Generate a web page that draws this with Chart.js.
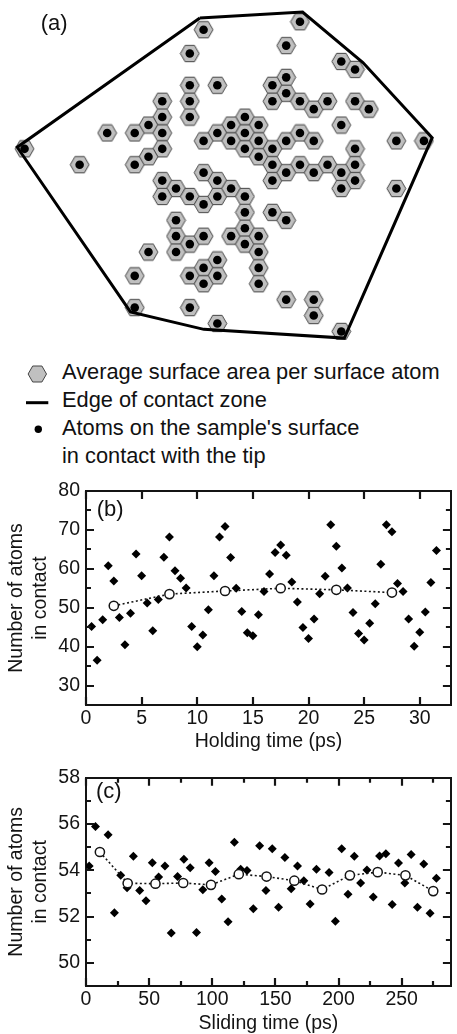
<!DOCTYPE html>
<html>
<head>
<meta charset="utf-8">
<script src="https://cdn.jsdelivr.net/npm/chart.js@4.4.1/dist/chart.umd.min.js"></script>
<style>
  html, body { margin: 0; padding: 0; background: #fff; }
  body { width: 457px; height: 1034px; position: relative; overflow: hidden;
         font-family: "Liberation Sans", Arial, sans-serif; color: #111; }
  canvas { position: absolute; left: 0; }
  .tag { position: absolute; font-size: 22px; line-height: 22px; white-space: nowrap; }
  #legend { position: absolute; left: 62px; top: 358.4px; font-size: 21.8px; line-height: 27.8px; white-space: nowrap; }
  #legendKey { position: absolute; left: 0; top: 345px; }
</style>
</head>
<body>
<canvas id="chartA" width="457" height="345" style="top:0"></canvas>
<canvas id="chartB" width="457" height="290" style="top:470px"></canvas>
<canvas id="chartC" width="457" height="274" style="top:760px"></canvas>

<svg id="legendKey" width="80" height="125">
  <polygon points="46.5,29 41.9,37 32.7,37 28.1,29 32.7,21 41.9,21" fill="#c0c0c0" stroke="#444" stroke-width="1"/>
  <line x1="26" y1="57.7" x2="48.3" y2="57.7" stroke="#000" stroke-width="3"/>
  <circle cx="38.3" cy="84.3" r="3.7" fill="#000"/>
</svg>
<div id="legend">Average surface area per surface atom<br>Edge of contact zone<br>Atoms on the sample's surface<br>in contact with the tip</div>

<div class="tag" style="left:40.7px; top:11.8px">(a)</div>
<div class="tag" style="left:96.7px; top:498.4px">(b)</div>
<div class="tag" style="left:96px; top:780px">(c)</div>

<script>
// (a) surface atoms on the hex lattice: column, row (odd columns sit half a row down)
const atomCol = [13, 20, 12, 19, 23, 24, 12, 14, 19, 18, 19, 10, 12, 18, 20, 21, 22, 24, 25, 10,
                 12, 9, 16, 15, 17, 23, 6, 8, 10, 14, 16, 13, 15, 17, 19, 20, 21, 27, 29, 0,
                 10, 16, 18, 24, 4, 9, 8, 17, 18, 20, 22, 24, 13, 14, 10, 11, 10, 12, 13, 14,
                 15, 16, 16, 18, 19, 11, 11, 12, 13, 15, 16, 16, 17, 17, 11, 9, 14, 13, 12, 14,
                 13, 17, 17, 8, 8, 12, 14, 19, 21, 21, 23, 27, 23, 24, 23, 18, 19, 21];
const atomRow = [0.5, 0, 2, 1.5, 2.5, 3, 4, 4, 3.5, 4, 4.5, 5, 5, 5, 5, 5.5, 5, 5, 5.5, 6,
                 6, 6.5, 6, 6.5, 6.5, 6.5, 7, 7, 7, 7, 7, 7.5, 7.5, 7.5, 7.5, 7, 7.5, 7.5, 7.5, 8,
                 8, 8, 8, 8, 9, 8.5, 9, 8.5, 9, 9, 9, 9, 9.5, 10, 10, 10.5, 11, 11, 11.5, 11,
                 10.5, 11, 12, 12, 12.5, 12.5, 13.5, 14, 13.5, 13.5, 13, 14, 13.5, 14.5, 14.5, 14.5, 15, 15.5, 16, 16,
                 16.5, 15.5, 16.5, 16, 18, 18, 19, 17.5, 17.5, 18.5, 19.5, 10.5, 9.5, 10, 10.5, 10, 9.5, 9.5];
// (a) edge of the contact zone, same lattice units
const edgeCol = [12.73, 20.19, 24.57, 29.6, 23.22, 13.02, 7.69, -0.53, 12.73];
const edgeRow = [-0.24, -0.61, 2.57, 7.3, 19.92, 19.37, 18.27, 7.9, -0.24];

// (b) holding
const holdTime = [0.5, 1, 1.5, 2, 2.5, 3, 3.5, 4, 4.5, 5, 5.5, 6, 6.5, 7, 7.5, 8, 8.5, 9, 9.5, 10,
                  10.5, 11, 11.5, 12, 12.5, 13, 13.5, 14, 14.5, 15, 15.5, 16, 16.5, 17, 17.5, 18, 18.5, 19, 19.5, 20,
                  20.5, 21, 21.5, 22, 22.5, 23, 23.5, 24, 24.5, 25, 25.5, 26, 26.5, 27, 27.5, 28, 28.5, 29, 29.5, 30,
                  30.5, 31, 31.5];
const holdAtoms = [45.2, 36.5, 46.9, 60.8, 56.9, 47.5, 40.5, 48.6, 63.8, 58.2, 51.2, 44.1, 52.1, 63.0, 68.2, 59.5, 57.6, 55.1, 45.2, 40.0,
                   43.0, 49.5, 58.2, 68.2, 70.9, 62.9, 55.0, 49.0, 43.6, 42.8, 48.2, 54.2, 58.7, 64.2, 66.1, 63.5, 56.6, 51.5, 44.9, 42.1,
                   47.1, 53.6, 58.1, 71.3, 65.8, 60.2, 55.1, 48.8, 43.4, 41.7, 46.0, 51.0, 61.2, 71.3, 69.5, 56.2, 54.2, 47.1, 40.1, 43.7,
                   48.9, 56.5, 64.7];
const holdAvgTime = [2.5, 7.5, 12.5, 17.5, 22.5, 27.5];
const holdAvgAtoms = [50.5, 53.5, 54.3, 55.0, 54.6, 53.9];

// (c) sliding
const slideTime = [2.5, 7.5, 17.5, 22.5, 27.5, 32.5, 37.5, 42.5, 47.5, 52.5, 57.5, 62.5, 67.5, 72.5, 77.5, 82.5, 87.5, 92.5, 97.5,
                   102.5, 107.5, 112.5, 117.5, 122.5, 127.5, 132.5, 137.5, 142.5, 147.5, 152.5, 157.5, 162.5, 167.5, 172.5, 177.5, 182.5,
                   192.5, 197.5, 202.5, 207.5, 212.5, 217.5, 222.5, 227.5, 232.5, 237.5, 242.5, 247.5, 252.5, 257.5, 262.5, 267.5, 272.5, 277.5];
const slideAtoms = [54.18, 55.89, 55.53, 52.16, 53.78, 53.24, 54.61, 53.13, 52.68, 54.33, 53.71, 54.18, 51.29, 53.73, 54.48, 54.11, 51.31, 53.16, 54.33,
                    53.95, 52.76, 51.78, 55.21, 54.04, 53.99, 52.34, 55.06, 53.13, 54.93, 52.4, 54.55, 53.2, 54.18, 53.55, 52.54, 54.04,
                    53.9, 51.8, 54.93, 52.96, 54.61, 53.45, 54.01, 52.85, 54.62, 54.71, 52.52, 54.31, 53.45, 54.68, 52.4, 54.27, 52.14, 53.66];
const slideAvgTime = [11, 33, 55, 77, 99, 121, 143, 165, 187, 209, 231, 253, 275];
const slideAvgAtoms = [54.79, 53.44, 53.42, 53.45, 53.37, 53.83, 53.73, 53.55, 53.17, 53.78, 53.92, 53.78, 53.1];

const INK = "#141414";
Chart.defaults.font.family = "'Liberation Sans', Arial, sans-serif";
Chart.defaults.color = INK;

function pairs(xs, ys) {
   return xs.map((x, i) => ({ x, y: ys[i] }));
}

function makeHex(r) {
   const c = document.createElement("canvas");
   const w = Math.ceil(2 * r + 2);
   const h = Math.ceil(Math.sqrt(3) * r + 2);
   c.width = w;
   c.height = h;
   const g = c.getContext("2d");
   g.beginPath();
   for (let i = 0; i < 6; i++) {
      const a = (Math.PI / 3) * i;
      const px = w / 2 + r * Math.cos(a);
      const py = h / 2 + r * Math.sin(a);
      if (i) g.lineTo(px, py);
      else g.moveTo(px, py);
   }
   g.closePath();
   g.fillStyle = "#c0c0c0";
   g.fill();
   g.strokeStyle = "#444";
   g.lineWidth = 1;
   g.stroke();
   return c;
}

// ticks point into the plot on all four sides; labelled ones are longer
function inwardTicks(xEvery, yEvery) {
   return {
      id: "inwardTicks",
      afterDraw(chart) {
         const { ctx, chartArea: a, scales } = chart;
         ctx.save();
         ctx.strokeStyle = INK;
         ctx.lineWidth = 2.2;
         ctx.beginPath();
         scales.x.ticks.forEach((t) => {
            const px = Math.round(scales.x.getPixelForValue(t.value));
            const len = t.value % xEvery === 0 ? 8 : 5;
            ctx.moveTo(px, a.bottom);
            ctx.lineTo(px, a.bottom - len);
            ctx.moveTo(px, a.top);
            ctx.lineTo(px, a.top + len);
         });
         scales.y.ticks.forEach((t) => {
            const py = Math.round(scales.y.getPixelForValue(t.value));
            const len = t.value % yEvery === 0 ? 8 : 5;
            ctx.moveTo(a.left, py);
            ctx.lineTo(a.left + len, py);
            ctx.moveTo(a.right, py);
            ctx.lineTo(a.right - len, py);
         });
         ctx.stroke();
         ctx.restore();
      },
   };
}

const baseOpts = {
   responsive: false,
   animation: false,
   devicePixelRatio: 1,
   events: [],
   plugins: { legend: { display: false }, tooltip: { enabled: false } },
};

// panel (a)
new Chart(document.getElementById("chartA"), {
   type: "scatter",
   data: {
      datasets: [
         {
            data: pairs(edgeCol, edgeRow),
            showLine: true,
            borderColor: "#000",
            borderWidth: 3,
            borderJoinStyle: "miter",
            pointRadius: 0,
            order: 0,
         },
         {
            data: pairs(atomCol, atomRow),
            pointStyle: "circle",
            pointRadius: 4.3,
            backgroundColor: "#000",
            borderWidth: 0,
            order: 1,
         },
         {
            data: pairs(atomCol, atomRow),
            pointStyle: makeHex(9.4),
            order: 2,
         },
      ],
   },
   options: {
      ...baseOpts,
      layout: { padding: 0 },
      scales: {
         x: { type: "linear", display: false, min: -1.42, max: 31.04 },
         y: { type: "linear", display: false, min: -1.058, max: 20.04, reverse: true },
      },
   },
});

function frameScales(o) {
   const border = { display: true, color: INK, width: 2 };
   const grid = { display: true, drawOnChartArea: false, drawTicks: false };
   const tickFont = { size: 19.5 };
   return {
      x: {
         type: "linear", position: "bottom", min: o.xMin, max: o.xMax, border, grid,
         ticks: {
            stepSize: o.xStep, includeBounds: false, autoSkip: false, maxRotation: 0,
            padding: o.xPad, font: tickFont,
            callback: (v) => (v % o.xEvery === 0 ? v : ""),
         },
         title: { display: true, text: o.xTitle, font: { size: 19.5, lineHeight: 1 }, padding: { top: 0, bottom: o.xTitlePad } },
         afterFit: (s) => { s.height = o.xAxisH; },
      },
      x2: {
         type: "linear", position: "top", min: o.xMin, max: o.xMax, border, grid,
         ticks: { display: false },
         afterFit: (s) => { s.height = 0; },
      },
      y: {
         type: "linear", position: "left", min: o.yMin, max: o.yMax, border, grid,
         ticks: {
            stepSize: o.yStep, includeBounds: false, autoSkip: false, padding: 6, font: tickFont,
            callback: (v) => (v % o.yEvery === 0 ? v : ""),
         },
         title: {
            display: true, text: ["Number of atoms", "in contact"],
            font: { size: 19.5, lineHeight: 1.22 }, padding: { top: 4.8, bottom: 0 },
         },
         afterFit: (s) => { s.width = 86; },
      },
      y2: {
         type: "linear", position: "right", min: o.yMin, max: o.yMax, border, grid,
         ticks: { display: false },
         afterFit: (s) => { s.width = 0; },
      },
   };
}

function scatterSets(xs, ys, avgX, avgY) {
   return [
      {
         data: pairs(avgX, avgY),
         showLine: true,
         borderColor: INK,
         borderWidth: 1.6,
         borderDash: [2, 2.5],
         pointStyle: "circle",
         pointRadius: 4.6,
         pointBackgroundColor: "#fff",
         pointBorderColor: INK,
         pointBorderWidth: 1.5,
         order: 0,
      },
      {
         data: pairs(xs, ys),
         pointStyle: "rectRot",
         pointRadius: 4.5,
         backgroundColor: "#000",
         borderWidth: 0,
         order: 1,
      },
   ];
}

// panel (b)
new Chart(document.getElementById("chartB"), {
   type: "scatter",
   data: { datasets: scatterSets(holdTime, holdAtoms, holdAvgTime, holdAvgAtoms) },
   options: {
      ...baseOpts,
      layout: { padding: { left: 0, right: 2, top: 21, bottom: 0 } },
      scales: frameScales({
         xMin: 0, xMax: 32.8, xStep: 5, xEvery: 5, xPad: 1.6, xTitle: "Holding time (ps)", xTitlePad: 8.5, xAxisH: 55,
         yMin: 25, yMax: 80, yStep: 5, yEvery: 10,
      }),
   },
   plugins: [inwardTicks(5, 10)],
});

// panel (c)
new Chart(document.getElementById("chartC"), {
   type: "scatter",
   data: { datasets: scatterSets(slideTime, slideAtoms, slideAvgTime, slideAvgAtoms) },
   options: {
      ...baseOpts,
      layout: { padding: { left: 0, right: 2, top: 12.5, bottom: 0 } },
      scales: frameScales({
         xMin: 0, xMax: 289, xStep: 25, xEvery: 50, xPad: 2.3, xTitle: "Sliding time (ps)", xTitlePad: 1, xAxisH: 48,
         yMin: 49, yMax: 58, yStep: 1, yEvery: 2,
      }),
   },
   plugins: [inwardTicks(50, 2)],
});
</script>
</body>
</html>
